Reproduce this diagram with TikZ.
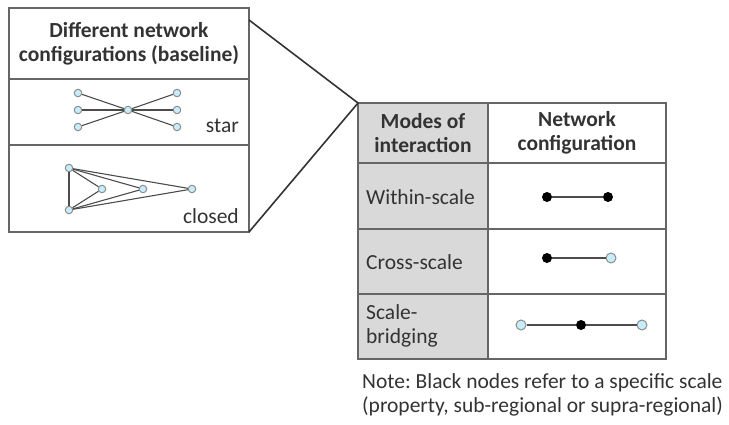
\documentclass[tikz,border=0pt]{standalone}
\usepackage{fontspec}
\setmainfont{Carlito}
\begin{document}
\frenchspacing
\begin{tikzpicture}[x=1pt,y=-1pt,
  frame/.style={draw=black!60,line width=1.3pt},
  edge/.style={draw=black!70,line width=1.1pt},
  callout/.style={draw=black!80,line width=1.6pt},
  cnode/.style={circle,draw=black!45,fill=cyan!22!white,line width=1pt,inner sep=0pt,minimum size=7.5pt},
  cbig/.style={cnode,minimum size=10pt},
  bnode/.style={circle,fill=black,inner sep=0pt,minimum size=10pt},
  txt/.style={font=\fontsize{21.5}{24}\selectfont,inner sep=0pt,text=black!80},
  hdr/.style={txt,font=\fontsize{21.5}{24.5}\selectfont\bfseries,align=center}]
\useasboundingbox (0,0) rectangle (729,425);

% ---- baseline configurations panel ----
\coordinate (bTL) at (9,8);
\coordinate (bTR) at (249,8);
\coordinate (bBR) at (249,232);
\coordinate (bBL) at (9,232);
\draw[frame] (bTL) rectangle (bBR);
\draw[frame] (9,79) -- (249,79);
\draw[frame] (9,145) -- (249,145);
\node[hdr] (bhead) at (129,44) {Different network\\configurations (baseline)};

% star
\node[cnode] (s0) at (128,110) {};
\node[cnode] (sl1) at (78,93) {};
\node[cnode] (sl2) at (78,110) {};
\node[cnode] (sl3) at (78,127) {};
\node[cnode] (sr1) at (177,93) {};
\node[cnode] (sr2) at (177,110) {};
\node[cnode] (sr3) at (177,127) {};
\foreach \n in {sl1,sl2,sl3,sr1,sr2,sr3} \draw[edge] (s0) -- (\n);
\node[txt,anchor=base east] (lstar) at (239,133) {star};

% closed
\node[cnode] (ct) at (69,168) {};
\node[cnode] (cb) at (69,210) {};
\node[cnode] (c1) at (102,189) {};
\node[cnode] (c2) at (143,189) {};
\node[cnode] (c3) at (192,189) {};
\draw[edge] (ct) -- (cb);
\foreach \n in {c1,c2,c3} {\draw[edge] (ct) -- (\n); \draw[edge] (cb) -- (\n);}
\node[txt,anchor=base east] (lclosed) at (239,224) {closed};

% ---- modes table ----
\coordinate (tTL) at (358,103);
\fill[black!15] (358,103) rectangle (488,359);
\draw[frame] (358,103) rectangle (666,359);
\draw[frame] (488,103) -- (488,359);
\foreach \y in {163,229,294} \draw[frame] (358,\y) -- (666,\y);

\node[hdr] (h1) at (423,133) {Modes of\\interaction};
\node[hdr] (h2) at (577,133) {Network\\configuration};

\node[txt,anchor=west] (r1) at (366,197) {Within-scale};
\node[txt,anchor=west] (r2) at (366,262) {Cross-scale};
\node[txt,anchor=west,align=left] (r3) at (366,326) {Scale-\\bridging};

% within-scale
\node[bnode] (w1) at (547,197) {};
\node[bnode] (w2) at (608,197) {};
\draw[edge] (w1) -- (w2);
% cross-scale
\node[bnode] (x1) at (547,258) {};
\node[cbig] (x2) at (611,258) {};
\draw[edge] (x1) -- (x2);
% scale-bridging
\node[cbig] (y1) at (521,325) {};
\node[bnode] (y2) at (581,325) {};
\node[cbig] (y3) at (642,325) {};
\draw[edge] (y1) -- (y2) -- (y3);

% callout lines
\coordinate (cA) at (249,20);
\draw[callout] (cA) -- (tTL) -- (bBR);

% note
\node[txt,anchor=north west,align=left] (note) at (362,373) {Note: Black nodes refer to a specific scale\\(property, sub-regional or supra-regional)};
\end{tikzpicture}
\end{document}
